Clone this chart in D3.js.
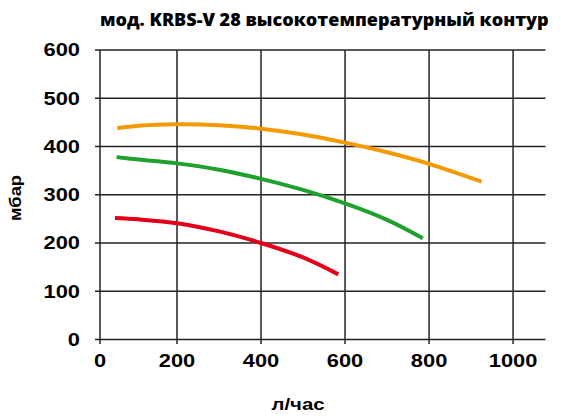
<!DOCTYPE html>
<html><head><meta charset="utf-8">
<script src="https://cdn.jsdelivr.net/npm/d3@7"></script>
<style>body{margin:0;background:#fff}svg{display:block}</style>
</head><body>
<script>
const title = "мод. KRBS-V 28 высокотемпературный контур";
const xLabel = "л/час";
const yLabel = "мбар";
const xTicks = [0, 200, 400, 600, 800, 1000];
const yTicks = [0, 100, 200, 300, 400, 500, 600];
// [flow l/h, pressure mbar]
const orangeSeries = [[45,438],[100,443],[200,446],[300,444],[400,437],[500,425],[600,408],[700,388],[800,364],[925,327]];
const greenSeries  = [[43,378],[100,373],[200,365],[300,352],[400,333],[500,310],[600,282],[700,248],[785,210]];
const redSeries    = [[39,252],[100,249],[200,241],[300,224],[400,200],[500,170],[584,135]];
const seriesColors = ["#f39a00", "#20a02c", "#e2001a"];

const W = 561, H = 416;
const svg = d3.select("body").append("svg").attr("width", W).attr("height", H);

const x = d3.scaleLinear().domain([0, 200, 1076]).range([100, 177, 545]);
const y = d3.scaleLinear().domain([0, 600]).range([339.5, 50]);

const gridColor = "#222";
svg.append("g").selectAll("line").data(yTicks).join("line")
  .attr("x1", 95).attr("x2", 545.5)
  .attr("y1", d => y(d)).attr("y2", d => y(d))
  .attr("stroke", gridColor).attr("stroke-width", 1.5);
svg.append("g").selectAll("line").data(xTicks).join("line")
  .attr("x1", d => x(d)).attr("x2", d => x(d))
  .attr("y1", 50).attr("y2", 344)
  .attr("stroke", gridColor).attr("stroke-width", 1.5);

const tickFont = "'Liberation Sans', Arial, Helvetica, sans-serif";
svg.append("g").selectAll("text").data(yTicks).join("text")
  .attr("transform", d => `translate(80,${y(d)}) scale(1.25,1)`)
  .attr("text-anchor", "end").attr("dy", "0.36em")
  .attr("font-family", tickFont).attr("font-weight", "bold").attr("font-size", 17.5)
  .attr("fill", "#000").text(d => d);
svg.append("g").selectAll("text").data(xTicks).join("text")
  .attr("transform", d => `translate(${x(d)},367) scale(1.25,1)`)
  .attr("text-anchor", "middle")
  .attr("font-family", tickFont).attr("font-weight", "bold").attr("font-size", 17.5)
  .attr("fill", "#000").text(d => d);

svg.append("text").attr("transform", "translate(298,410) scale(1.2,1)").attr("text-anchor", "middle")
  .attr("font-family", tickFont).attr("font-weight", "bold").attr("font-size", 17)
  .attr("fill", "#000").text(xLabel);
svg.append("text").attr("transform", "translate(21,198) rotate(-90) scale(1.15,1)").attr("text-anchor", "middle")
  .attr("font-family", tickFont).attr("font-weight", "bold").attr("font-size", 16)
  .attr("fill", "#000").text(yLabel);

const t = svg.append("text").attr("x", 100).attr("y", 26)
  .attr("font-family", "'Open Sans', sans-serif").attr("font-weight", 800).attr("font-size", 16)
  .attr("fill", "#000").text(title);
const len = t.node().getComputedTextLength();
t.attr("font-size", 16 * 449 / len);

const line = d3.line().x(d => x(d[0])).y(d => y(d[1])).curve(d3.curveCatmullRom.alpha(0.5));
[orangeSeries, greenSeries, redSeries].forEach((s, i) => {
  svg.append("path").datum(s).attr("d", line)
    .attr("fill", "none").attr("stroke", seriesColors[i]).attr("stroke-width", 4);
});
</script>
</body></html>
